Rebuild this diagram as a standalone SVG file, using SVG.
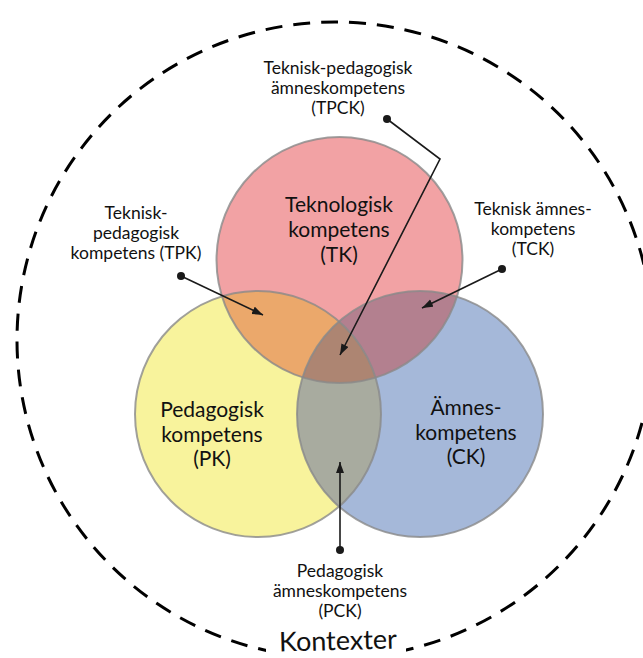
<svg xmlns="http://www.w3.org/2000/svg" width="643" height="658" viewBox="0 0 643 658">
  <style>
    text { font-family: Lato, "Liberation Sans", sans-serif; fill: #111; text-anchor: middle; }
    .main { font-size: 21px; }
    .lbl { font-size: 17.5px; }
    .ctx { font-size: 27px; }
    .ring { fill: none; stroke: #000; stroke-width: 3; stroke-dasharray: 17 11; }
    .edge { fill: none; stroke: #8a8a8a; stroke-opacity: 0.8; stroke-width: 2; }
    .conn { fill: none; stroke: #1a1a1a; stroke-width: 1.6; }
    .dot { fill: #1a1a1a; }
  </style>
  <defs>
    <marker id="arrow" markerUnits="userSpaceOnUse" markerWidth="12" markerHeight="9" refX="11" refY="4" orient="auto">
      <path d="M0,0 L11,4 L0,8 z" fill="#1a1a1a"/>
    </marker>
    <clipPath id="clipTK"><circle cx="339.5" cy="260" r="123"/></clipPath>
    <clipPath id="clipPK"><circle cx="258" cy="414" r="123"/></clipPath>
  </defs>

  <rect width="643" height="658" fill="#fff"/>

  <!-- context ring -->
  <g id="context">
    <circle class="ring" cx="335" cy="340" r="318"/>
    <rect x="266" y="624" width="140" height="34" fill="#fff"/>
    <text class="ctx" x="338" y="650" transform="rotate(-1.5 338 642)">Kontexter</text>
  </g>

  <!-- base circles -->
  <g id="pk">
    <circle cx="258" cy="414" r="123" fill="#f8f39c"/>
  </g>
  <g id="ck">
    <circle cx="420" cy="414" r="123" fill="#a5b8d9"/>
  </g>
  <g id="tk">
    <circle cx="339.5" cy="260" r="123" fill="#f2a2a4"/>
  </g>

  <!-- pairwise and triple overlaps -->
  <g id="tpk" clip-path="url(#clipTK)">
    <circle cx="258" cy="414" r="123" fill="#eba86b"/>
  </g>
  <g id="tck" clip-path="url(#clipTK)">
    <circle cx="420" cy="414" r="123" fill="#b3808f"/>
  </g>
  <g id="pck" clip-path="url(#clipPK)">
    <circle cx="420" cy="414" r="123" fill="#a8ab9f"/>
  </g>
  <g id="tpck" clip-path="url(#clipTK)">
    <g clip-path="url(#clipPK)">
      <circle cx="420" cy="414" r="123" fill="#ad8572"/>
    </g>
  </g>

  <!-- circle outlines -->
  <g id="outlines">
    <circle class="edge" cx="258" cy="414" r="123"/>
    <circle class="edge" cx="420" cy="414" r="123"/>
    <circle class="edge" cx="339.5" cy="260" r="123"/>
  </g>

  <!-- circle titles -->
  <g id="tk-label">
    <text class="main" x="339" y="212">Teknologisk</text>
    <text class="main" x="339" y="237">kompetens</text>
    <text class="main" x="339" y="262">(TK)</text>
  </g>
  <g id="pk-label">
    <text class="main" x="212" y="417">Pedagogisk</text>
    <text class="main" x="212" y="442">kompetens</text>
    <text class="main" x="212" y="466">(PK)</text>
  </g>
  <g id="ck-label">
    <text class="main" x="466" y="415">Ämnes-</text>
    <text class="main" x="466" y="440">kompetens</text>
    <text class="main" x="466" y="464">(CK)</text>
  </g>

  <!-- callout labels -->
  <g id="tpck-label">
    <text class="lbl" x="338" y="74">Teknisk-pedagogisk</text>
    <text class="lbl" x="338" y="94">ämneskompetens</text>
    <text class="lbl" x="338" y="114">(TPCK)</text>
  </g>
  <g id="tpk-label">
    <text class="lbl" x="136" y="219">Teknisk-</text>
    <text class="lbl" x="136" y="239">pedagogisk</text>
    <text class="lbl" x="136" y="259">kompetens (TPK)</text>
  </g>
  <g id="tck-label">
    <text class="lbl" x="533" y="215">Teknisk ämnes-</text>
    <text class="lbl" x="533" y="235">kompetens</text>
    <text class="lbl" x="533" y="255">(TCK)</text>
  </g>
  <g id="pck-label">
    <text class="lbl" x="340" y="577">Pedagogisk</text>
    <text class="lbl" x="340" y="597">ämneskompetens</text>
    <text class="lbl" x="340" y="617">(PCK)</text>
  </g>

  <!-- connectors -->
  <g id="connectors">
    <polyline class="conn" points="387,119 440,159 340,355" marker-end="url(#arrow)"/>
    <circle class="dot" cx="387" cy="119" r="4"/>
    <line class="conn" x1="181" y1="276" x2="263" y2="315" marker-end="url(#arrow)"/>
    <circle class="dot" cx="181" cy="276" r="4"/>
    <line class="conn" x1="502" y1="269" x2="422" y2="308" marker-end="url(#arrow)"/>
    <circle class="dot" cx="502" cy="269" r="4"/>
    <line class="conn" x1="340" y1="550" x2="340" y2="462" marker-end="url(#arrow)"/>
    <circle class="dot" cx="340" cy="550" r="4"/>
  </g>
</svg>
